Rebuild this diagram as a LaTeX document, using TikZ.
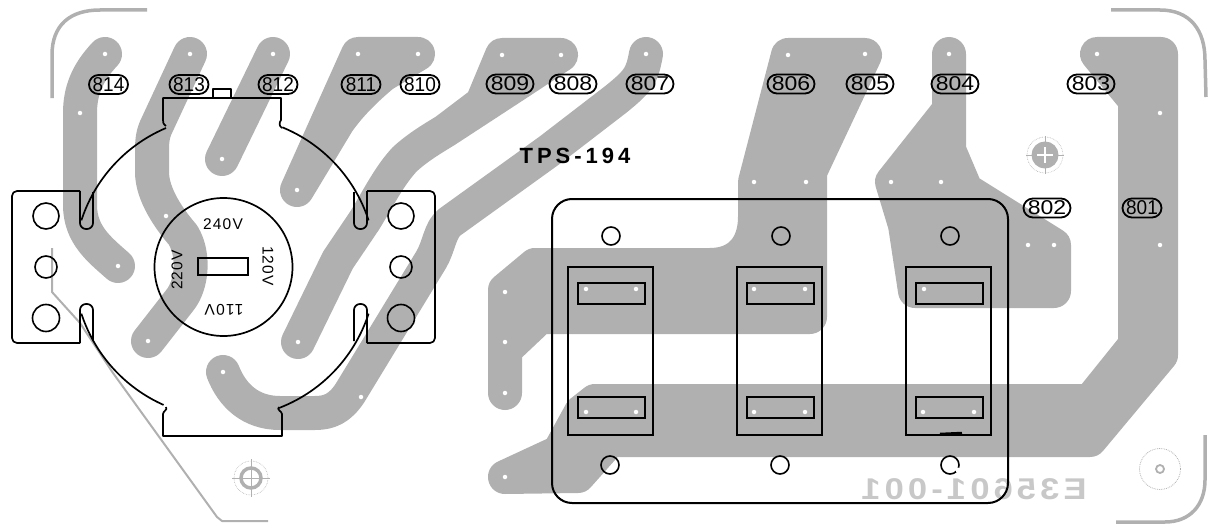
\documentclass[tikz,border=0pt]{standalone}
\usepackage{fontspec}
\setmainfont{Liberation Sans}
\usetikzlibrary{shapes.misc}
\definecolor{cu}{HTML}{B0B0B0}
\definecolor{ghost}{HTML}{C8C8C8}
\tikzset{
  trace/.style={draw=cu,fill=cu,line width=34pt,line cap=round,line join=round},
  edgeline/.style={draw=cu,line width=3.5pt,line cap=butt,line join=round},
  thinedge/.style={draw=cu,line width=2pt,line join=round},
  outl/.style={draw=black,line width=1.7pt,line join=round},
  boxl/.style={draw=black,line width=2pt},
  pad/.style={draw=black,line width=1.8pt,rounded rectangle,minimum height=19pt,inner sep=0pt,font=\fontsize{20}{20}\selectfont},
  padw/.style={pad,minimum width=47pt},
  padn/.style={pad,minimum width=39pt},
  hole/.style={circle,fill=white,inner sep=0pt,minimum size=4.5pt},
  mtg/.style={circle,draw=black,line width=1.6pt,inner sep=0pt},
  volt/.style={font=\fontsize{15.5}{15.5}\selectfont\addfontfeatures{LetterSpace=8}},
}
\begin{document}
\begin{tikzpicture}[x=1pt,y=-1pt]
\useasboundingbox (0,0) rectangle (1208,527);
% copper traces
\draw[trace,fill=none] (105,54) .. controls (88,72) and (80,90) .. (80,113) -- (80,205) .. controls (80,235) and (100,250) .. (118,266);
\draw[trace,fill=none] (190,54) -- (157,125) .. controls (153,133) and (152,140) .. (152,150) -- (152,172) .. controls (152,195) and (170,220) .. (183,235) .. controls (195,255) and (192,285) .. (180,300) -- (148,341);
\draw[trace,fill=none] (273,54) -- (222,159);
\path[trace] (358,54) -- (418,54) -- (383,75) .. controls (365,90) and (350,105) .. (338,122) -- (297,190) -- cycle;
\path[trace] (502,55) -- (561,55) -- (520,82) -- (445,131) .. controls (425,143) and (415,150) .. (405,159) .. controls (390,175) and (380,195) .. (365,220) -- (338,260) -- (298,342) -- (338,260) -- (365,220) .. controls (380,195) and (390,175) .. (405,159) .. controls (415,150) and (425,143) .. (445,131) -- (482,103) -- cycle;
\draw[trace,fill=none] (646,54) .. controls (642,75) and (640,80) .. (615,100) -- (550,150) -- (450,222) .. controls (440,229) and (439,247) .. (431,260) -- (350,393) .. controls (340,408) and (330,413) .. (315,413) -- (280,413) .. controls (250,413) and (232,395) .. (223,372);
\path[trace] (788,55) -- (865,55) -- (810,172) -- (810,317) -- (540,317) -- (505,350) -- (505,393) -- (505,290) -- (535,265) -- (710,265) .. controls (740,265) and (755,245) .. (755,217) -- (755,182) -- cycle;
\path[trace] (949,54) -- (949,150) -- (966,190) -- (1054,245) -- (1054,291) -- (915,291) -- (905,225) -- (892,182) -- (949,110) -- cycle;
\path[trace] (1097,54) -- (1161,54) -- (1161,355) -- (1090,440) -- (610,440) -- (578,476) -- (505,477) -- (559,452) -- (581,412) -- (595,401) -- (1090,401) -- (1135,345) -- (1135,100) -- cycle;
% board outline ghost
\draw[edgeline] (52,98) -- (52,55) .. controls (52,25) and (70,10) .. (100,10) -- (147,10);
\draw[edgeline] (1111,10) -- (1160,10) .. controls (1190,10) and (1205,30) .. (1205,60) -- (1206,97);
\draw[thinedge] (52,248) -- (52,292) -- (80,323) -- (113,373) -- (217,517) -- (222,521) -- (268,521);
\draw[edgeline] (1116,522) -- (1165,522) .. controls (1190,522) and (1205,505) .. (1205,480) -- (1205,435);
% registration marks
\node[circle,draw=cu,line width=0.6pt,densely dotted,minimum size=36pt,inner sep=0pt] (rega) at (1045,155) {};
\node[circle,draw=cu,fill=cu,line width=1pt,minimum size=26pt,inner sep=0pt] (rina) at (1045,155) {};
\draw[cu,line width=0.8pt] (1026,155) -- (1064,155) (1045,136) -- (1045,174);
\draw[white,line width=1.5pt] (1037,155) -- (1053,155) (1045,147) -- (1045,163);
\node[circle,draw=cu,line width=0.6pt,densely dotted,minimum size=34pt,inner sep=0pt] (regb) at (251,478) {};
\node[circle,draw=cu,line width=3.5pt,minimum size=20pt,inner sep=0pt] (rinb) at (251,478) {};
\draw[cu,line width=0.7pt] (232,478) -- (270,478) (251,459) -- (251,497);
\node[circle,draw=cu,line width=0.8pt,densely dotted,minimum size=41pt,inner sep=0pt] (regc) at (1160,469) {};
\node[circle,draw=cu,line width=1.8pt,minimum size=8pt,inner sep=0pt] (regd) at (1160,469) {};
% ghost mirrored number
\node[text=ghost,inner sep=0pt,font=\fontsize{30}{30}\selectfont\bfseries\addfontfeatures{LetterSpace=12}] (ghostno) at (974,489) {\scalebox{-1.15}[1]{E35601-001}};
% drill holes in copper
\foreach \hx/\hy [count=\i] in {105/54,80/113,118/266,190/54,273/54,222/159,358/54,418/54,297/190,502/55,561/55,298/342,646/54,223/372,361/397,166/216,148/341,788/55,865/54,754/182,806/182,891/182,941/182,949/54,1097/54,1160/113,1160/245,1028/245,1054/245,505/292,505/342,505/393,505/477,586/289,636/289,586/412,636/412,754/289,805/289,754/412,805/412,924/289,923/412,974/412}
  \node[hole] (h\i) at (\hx,\hy) {};
% transformer box
\draw[boxl,rounded corners=20pt] (552,199) rectangle (1008,503);
\foreach \ax/\bx/\cx/\dx in {568/653/578/645,737/822/747/814,906/991/916/983}{
  \draw[boxl] (\ax,267) rectangle (\bx,435);
  \draw[boxl] (\cx,283) rectangle (\dx,304);
  \draw[boxl] (\cx,397) rectangle (\dx,418);
}
\draw[line width=2.5pt] (940,434) -- (962,433);
\foreach \x/\n in {611/a,781/b,950/c}{\node[mtg,minimum size=18pt] (top\n) at (\x,236) {};}
\foreach \x/\n in {610/a,780/b,950/c}{\node[mtg,minimum size=18pt] (bot\n) at (\x,465) {};}
\fill[white] (958,470) circle (2.5pt);
% left and right lugs
\draw[outl] plot[domain=198:247,samples=40] ({225+151*cos(\x)},{267+151*sin(\x)});
\draw[outl] plot[domain=-67.7:-18,samples=40] ({225+151*cos(\x)},{267+151*sin(\x)});
\draw[outl] plot[domain=18:69,samples=40] ({225+151*cos(\x)},{267+151*sin(\x)});
\draw[outl] plot[domain=114:162,samples=40] ({225+151*cos(\x)},{267+151*sin(\x)});
\draw[outl] (166,126) .. controls (163,124) and (163,122) .. (163,120) -- (163,98) -- (281,98) -- (281,120) .. controls (279,123) and (279,126) .. (282,128);
\draw[outl] (213,98) -- (213,89) -- (231,89) -- (231,98);
\draw[outl] (166,407) .. controls (168,410) and (163,411) .. (163,414) -- (163,436) -- (282,436) -- (282,414) .. controls (282,411) and (276,410) .. (279,407);
\draw[outl,rounded corners=6pt] (93,192) -- (93,229) -- (80,229) -- (80,191);
\draw[outl,rounded corners=5pt] (80,191) -- (12,191) -- (12,343) -- (80,343);
\draw[outl,rounded corners=6pt] (80,343) -- (80,304) -- (93,304) -- (93,341);
\draw[outl,rounded corners=6pt] (354,192) -- (354,229) -- (367,229) -- (367,191);
\draw[outl,rounded corners=5pt] (367,191) -- (435,191) -- (435,343) -- (367,343);
\draw[outl,rounded corners=6pt] (367,343) -- (367,304) -- (354,304) -- (354,341);
\foreach \x/\n in {46/l,401/r}{
  \node[mtg,minimum size=26pt] (a\n) at (\x,216) {};
  \node[mtg,minimum size=22pt] (b\n) at (\x,267) {};
  \node[mtg,minimum size=27pt] (c\n) at (\x,318) {};
}
% selector disc
\node[circle,draw=black,line width=1.7pt,minimum size=138pt,inner sep=0pt] (disc) at (223.5,267) {};
\draw[boxl,line width=1.5pt] (198,258) rectangle (248,275);
\node[volt] (v240) at (223,224) {240V};
\node[volt,rotate=-90] (v120) at (268,266) {120V};
\node[volt,rotate=90] (v220) at (177,270) {220V};
\node[volt,rotate=180] (v110) at (224,310) {110V};
% pads
\foreach \x/\t in {108.5/814,189/813,278/812,361/811,420/810}{\node[padn] (p\t) at (\x,84.5) {\scalebox{0.95}[1]{\t}};}
\foreach \x/\t in {510/809,573/808,650/807,791/806,870/805,955/804,1091/803}{\node[padw] (p\t) at (\x,84) {\scalebox{1.15}[1]{\t}};}
\node[padw] (p802) at (1047,208) {\scalebox{1.15}[1]{802}};
\node[padn] (p801) at (1142,208) {\scalebox{0.95}[1]{801}};
\node[inner sep=0pt,font=\fontsize{22}{22}\selectfont\bfseries\addfontfeatures{LetterSpace=18}] (tps) at (575,156) {TPS-194};
\end{tikzpicture}
\end{document}
